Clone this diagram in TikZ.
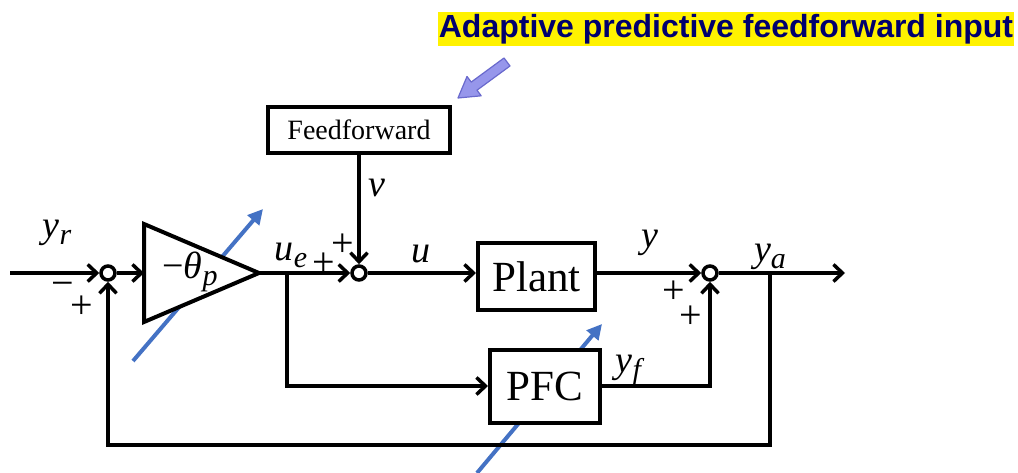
\documentclass[tikz,border=0pt]{standalone}
\usepackage{fontspec}
\setmainfont{Liberation Serif}
\newfontfamily\headfont{Liberation Sans}
\usetikzlibrary{arrows.meta}

\definecolor{tuneblue}{RGB}{68,114,196}
\definecolor{headnavy}{RGB}{0,0,110}
\definecolor{hintfill}{RGB}{150,150,235}
\definecolor{hintdraw}{RGB}{105,105,205}

% signal name with lowered subscript
\newcommand{\sgn}[2]{\textit{#1}\raisebox{-7pt}{\fontsize{30}{30}\selectfont\textit{#2}}}

\begin{document}
\begin{tikzpicture}[x=1pt,y=-1pt,>={Straight Barb[length=9pt,width=17pt]},
  sig/.style={line width=3.5pt,->},
  blk/.style={draw,line width=4pt,fill=white,inner sep=0pt},
  sumnode/.style={draw,circle,line width=3.5pt,fill=white,minimum size=14pt,inner sep=0pt},
  lbl/.style={font=\fontsize{38}{40}\selectfont,inner sep=0pt},
  pm/.style={font=\fontsize{40}{40}\selectfont,inner sep=0pt},
  tune/.style={tuneblue,line width=4pt,-{Triangle[length=15pt,width=15pt]}}]
  \useasboundingbox (0,0) rectangle (1018,473);

  % adaptation arrows (behind the blocks)
  \coordinate (t1a) at (133,361);
  \coordinate (t1b) at (263,209);
  \coordinate (t2a) at (477,473);
  \coordinate (t2b) at (602,324);
  \draw[tune] (t1a) -- (t1b);
  \draw[tune] (t2a) -- (t2b);

  % blocks
  \node[sumnode] (s1) at (108,273) {};
  \node[sumnode] (s2) at (359,273) {};
  \node[sumnode] (s3) at (710,273) {};
  \coordinate (gin) at (144,273);
  \coordinate (gout) at (259,273);
  \draw[line width=4pt,fill=white] (144,224) -- (gout) -- (144,322) -- cycle;
  \node[lbl] (gain) at (190,272) {−\sgn{θ}{p}};
  \node[blk,minimum width=182pt,minimum height=46pt,font=\fontsize{28}{28}\selectfont] (ff) at (359,130) {Feedforward};
  \node[blk,minimum width=117pt,minimum height=67pt,font=\fontsize{43}{43}\selectfont] (plant) at (536.5,276.5) {Plant};
  \node[blk,minimum width=110pt,minimum height=73pt,font=\fontsize{43}{43}\selectfont] (pfc) at (545,386) {PFC};

  % signals
  \coordinate (in) at (10,273);
  \coordinate (out) at (845,273);
  \coordinate (br1) at (287,273);
  \coordinate (br2) at (770,273);
  \coordinate (fb) at (770,445);
  \draw[sig] (in) -- (s1);
  \draw[sig] (s1) -- (gin);
  \draw[sig] (gout) -- (s2);
  \draw[sig] (ff) -- (s2);
  \draw[sig] (s2) -- (s2 -| plant.west);
  \draw[sig] (plant.east |- s3) -- (s3);
  \draw[sig] (s3) -- (out);
  \draw[sig] (br1) |- (pfc);
  \draw[sig] (pfc) -| (s3);
  \draw[sig] (br2) -- (fb) -| (s1);

  % labels
  \node[lbl] (lyr) at (57,233) {\sgn{y}{r}};
  \node[lbl] (lue) at (291,255) {\sgn{u}{e}};
  \node[lbl] (lv) at (377,188) {\textit{v}};
  \node[lbl] (lu) at (421,254) {\textit{u}};
  \node[lbl] (ly) at (650,243) {\textit{y}};
  \node[lbl] (lya) at (770,257) {\sgn{y}{a}};
  \node[lbl] (lyf) at (630,370) {\sgn{y}{f}};
  \node[pm] (m1) at (63,289) {−};
  \node[pm] (p1) at (82,307) {+};
  \node[pm] (p2) at (324,264) {+};
  \node[pm] (p3) at (343,245) {+};
  \node[pm] (p4) at (674,292) {+};
  \node[pm] (p5) at (691,317) {+};

  % note
  \node[fill=yellow,text=headnavy,font=\headfont\bfseries\fontsize{32}{32}\selectfont,inner xsep=1pt,inner ysep=2pt] (head) at (726,29) {Adaptive predictive feedforward input};
  \draw[hintdraw,fill=hintfill,line width=1.2pt,line join=round]
    (510,66) -- (477,90.2) -- (481.2,95.8) -- (458,98) -- (467,76.5) -- (471.2,82.1) -- (504,58) -- cycle;
\end{tikzpicture}
\end{document}
